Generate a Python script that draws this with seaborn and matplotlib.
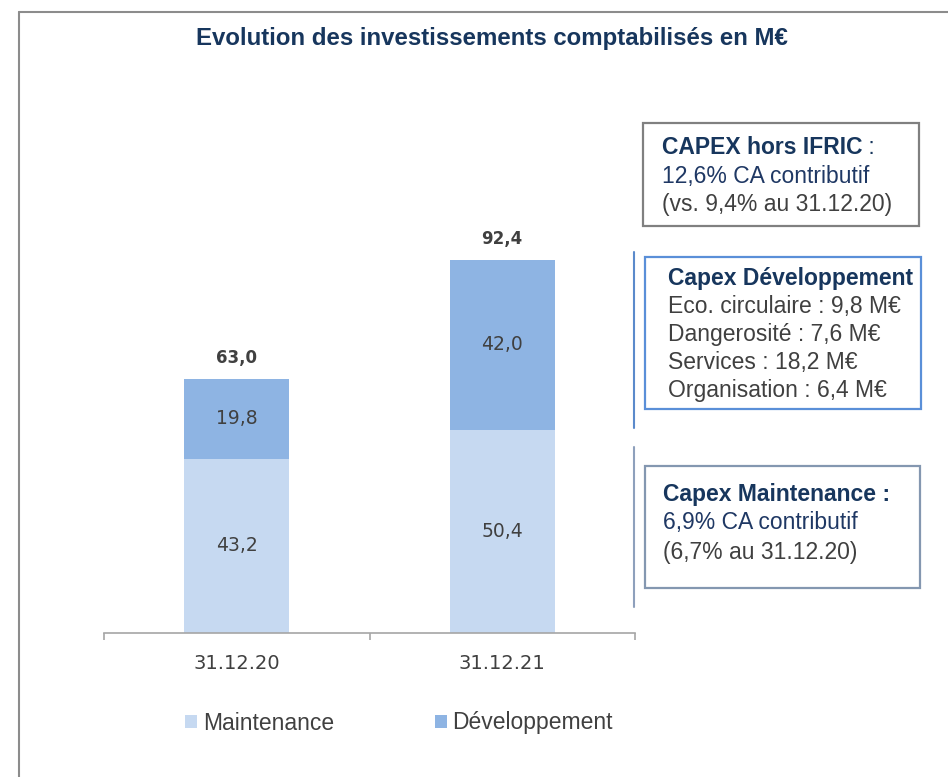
import matplotlib
matplotlib.use("Agg")
import matplotlib.pyplot as plt
import seaborn as sns
import pandas as pd
from matplotlib.patches import Rectangle, Patch
from matplotlib.lines import Line2D

# ---- data ----
categories = ["31.12.20", "31.12.21"]
maintenance = [43.2, 50.4]
developpement = [19.8, 42.0]
totals = [63.0, 92.4]
series_names = ["Maintenance", "Développement"]

title = "Evolution des investissements comptabilisés en M€"
box1_lines = ["CAPEX hors IFRIC", "12,6% CA contributif", "(vs. 9,4% au 31.12.20)"]
box2_lines = ["Capex Développement", "Eco. circulaire : 9,8 M€", "Dangerosité : 7,6 M€",
              "Services : 18,2 M€", "Organisation : 6,4 M€"]
box3_lines = ["Capex Maintenance :", "6,9% CA contributif", "(6,7% au 31.12.20)"]

def fmt(v):
    return f"{v:.1f}".replace(".", ",")

# ---- style ----
sns.set_theme(style="white")
plt.rcParams["font.family"] = ["Liberation Sans", "DejaVu Sans"]

W, H = 948, 777
fig = plt.figure(figsize=(W / 100, H / 100), dpi=100)
fig.patch.set_facecolor("white")

def fx(x):
    return x / W

def fy(y):
    return 1 - y / H

c_maint = "#C6D9F1"
c_dev = "#8EB4E3"
c_lbl = "#404040"
c_navy = "#17365D"

# axes placement (pixels)
ax_l, ax_r, ax_b, ax_t = 104, 635, 633, 100
ax = fig.add_axes([fx(ax_l), fy(ax_b), (ax_r - ax_l) / W, (ax_b - ax_t) / H])

df = pd.DataFrame({"cat": categories, "maint": maintenance, "dev": developpement, "tot": totals})
sns.barplot(data=df, x="cat", y="tot", color=c_dev, saturation=1, width=0.395, linewidth=0, ax=ax)
sns.barplot(data=df, x="cat", y="maint", color=c_maint, saturation=1, width=0.395, linewidth=0, ax=ax)

px_per_unit = 4.035
ax.set_ylim(0, (ax_b - ax_t) / px_per_unit)
ax.set_xlim(-0.5, 1.5)
ax.set_xlabel("")
ax.set_ylabel("")
ax.set_yticks([])
for s in ["left", "right", "top"]:
    ax.spines[s].set_visible(False)
ax.spines["bottom"].set_color("#A6A6A6")
ax.spines["bottom"].set_linewidth(1.2)
ax.set_xticks(range(len(categories)))
ax.set_xticklabels(categories, fontsize=14, color=c_lbl, family=["DejaVu Sans"])
ax.tick_params(axis="x", which="major", bottom=True, length=0, pad=15)
ax.set_xticks([-0.5, 0.5, 1.5], minor=True)
ax.tick_params(axis="x", which="minor", bottom=True, length=5, width=1.2, color="#A6A6A6", direction="out")
ax.set_facecolor("white")

for i in range(len(categories)):
    m, d, t = maintenance[i], developpement[i], totals[i]
    ax.text(i, m / 2, fmt(m), ha="center", va="center", fontsize=13.5, color=c_lbl, family=["DejaVu Sans"])
    ax.text(i, m + d / 2, fmt(d), ha="center", va="center", fontsize=13.5, color=c_lbl, family=["DejaVu Sans"])
    ax.annotate(fmt(t), (i, t), xytext=(0, 15), textcoords="offset points", ha="center",
                va="center", fontsize=12, fontweight="bold", color=c_lbl, family=["DejaVu Sans"])

# ---- legend ----
handles = [Patch(facecolor=c_maint, edgecolor="none"), Patch(facecolor=c_dev, edgecolor="none")]
fig.legend(handles, series_names, loc="center", bbox_to_anchor=(fx(399), fy(723)), ncol=2,
           frameon=False, fontsize=16.5, handlelength=0.52, handleheight=0.52,
           handletextpad=0.25, columnspacing=4.4, labelcolor=c_lbl)

# ---- title ----
fig.text(fx(492), fy(39), title, ha="center", va="center", fontsize=17.3, fontweight="bold",
         color=c_navy)

# ---- frame ----
fig.add_artist(Line2D([fx(19), fx(19)], [fy(12), 0], transform=fig.transFigure, color="#8C8C8C", lw=1.5))
fig.add_artist(Line2D([fx(19), 1], [fy(12), fy(12)], transform=fig.transFigure, color="#8C8C8C", lw=1.5))

# ---- side brackets ----
fig.add_artist(Line2D([fx(634), fx(634)], [fy(252), fy(428)], transform=fig.transFigure, color="#5B8ACB", lw=1.5))
fig.add_artist(Line2D([fx(634), fx(634)], [fy(447), fy(607)], transform=fig.transFigure, color="#8EA0BC", lw=1.5))

# ---- boxes ----
def box(x0, y0, x1, y1, ec):
    fig.add_artist(Rectangle((fx(x0), fy(y1)), (x1 - x0) / W, (y1 - y0) / H,
                             transform=fig.transFigure, facecolor="white", edgecolor=ec, lw=1.6))

box(643, 123, 919, 226, "#808080")
box(645, 257, 921, 409, "#5A8FD8")
box(645, 466, 920, 588, "#8497B0")

fs = 16.5
t1 = fig.text(fx(662), fy(147), box1_lines[0], ha="left", va="center", fontsize=fs,
              fontweight="bold", color=c_navy)
fig.text(fx(662), fy(177), box1_lines[1], ha="left", va="center", fontsize=fs, color="#1F3864")
fig.text(fx(662), fy(205), box1_lines[2], ha="left", va="center", fontsize=fs, color=c_lbl)

fig.canvas.draw()
bb = t1.get_window_extent()
fig.text(bb.x1 / W, fy(147), " :", ha="left", va="center", fontsize=fs, color=c_navy)

ys2 = [279, 307, 335, 363, 391]
for k, (line, yy) in enumerate(zip(box2_lines, ys2)):
    fig.text(fx(668), fy(yy), line, ha="left", va="center", fontsize=fs,
             fontweight="bold" if k == 0 else "normal", color=c_navy if k == 0 else c_lbl)

ys3 = [495, 523, 552]
cols3 = [c_navy, "#1F3864", c_lbl]
for k, (line, yy) in enumerate(zip(box3_lines, ys3)):
    fig.text(fx(663), fy(yy), line, ha="left", va="center", fontsize=fs,
             fontweight="bold" if k == 0 else "normal", color=cols3[k])

fig.savefig("out.png", dpi=100, facecolor="white")
